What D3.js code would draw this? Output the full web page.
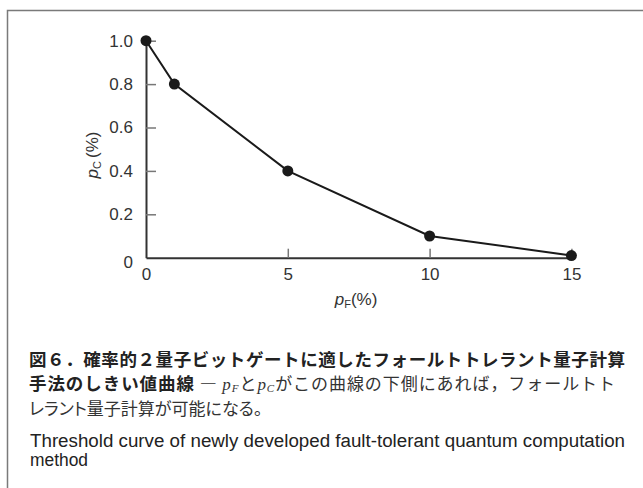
<!DOCTYPE html>
<html>
<head>
<meta charset="utf-8">
<script src="https://cdn.jsdelivr.net/npm/d3@7"></script>
<style>
  body { margin: 0; background: #fff; }
  svg { display: block; }
  .tick text { font-family: "Liberation Sans", Arial, sans-serif; font-size: 17px; fill: #333; }
</style>
</head>
<body>
<div id="chart"></div>
<script>
// data
var pF = [0, 1, 5, 10, 15],
    pC = [1.0, 0.8, 0.4, 0.1, 0.01];
var xTicks = [0, 5, 10, 15],
    yTicks = [0, 0.2, 0.4, 0.6, 0.8, 1.0];

var W = 643, H = 488;

var svg = d3.select("#chart").append("svg")
    .attr("width", W)
    .attr("height", H);

// frame (top + left only)
svg.append("path")
    .attr("d", "M7.5," + H + "V10.5H" + W)
    .attr("fill", "none")
    .attr("stroke", "#7a7a7a")
    .attr("stroke-width", 1.5);

var x = d3.scaleLinear().domain([0, 15]).range([146, 571.4]),
    y = d3.scaleLinear().domain([0, 1]).range([257.7, 40.7]);

var xAxis = d3.axisBottom(x).tickValues(xTicks).tickSizeInner(-9).tickSizeOuter(0).tickPadding(10),
    yAxis = d3.axisLeft(y).tickValues(yTicks).tickSizeInner(-10).tickSizeOuter(0).tickPadding(13)
        .tickFormat(function(d) { return d === 0 ? "0" : d3.format(".1f")(d); });

var gx = svg.append("g")
    .attr("transform", "translate(0," + y(0) + ")")
    .call(xAxis);
var gy = svg.append("g")
    .attr("transform", "translate(" + x(0) + ",0)")
    .call(yAxis);

[gx, gy].forEach(function(g) {
    g.select(".domain").attr("stroke", "#333").attr("stroke-width", 2);
    g.selectAll(".tick line").attr("stroke", "#777").attr("stroke-width", 1.5);
});
gx.selectAll(".tick").filter(function(d) { return d === 0; }).select("line").remove();
gy.selectAll(".tick").filter(function(d) { return d === 0; }).select("line").remove();
gy.selectAll(".tick").filter(function(d) { return d === 0; }).select("text").attr("dy", "0.55em");

// curve
var pts = pF.map(function(d, i) { return [d, pC[i]]; });
svg.append("path")
    .datum(pts)
    .attr("fill", "none")
    .attr("stroke", "#1a1a1a")
    .attr("stroke-width", 2)
    .attr("d", d3.line().x(function(d) { return x(d[0]); }).y(function(d) { return y(d[1]); }));

svg.selectAll("circle.pt")
    .data(pts)
    .enter().append("circle")
    .attr("class", "pt")
    .attr("cx", function(d) { return x(d[0]); })
    .attr("cy", function(d) { return y(d[1]); })
    .attr("r", 5.5)
    .attr("fill", "#1a1a1a");

// axis labels
var lab = "font-family:'Liberation Sans',Arial,sans-serif;font-size:17px;fill:#333";
var xl = svg.append("text")
    .attr("x", 356).attr("y", 305)
    .attr("text-anchor", "middle")
    .attr("style", lab);
xl.append("tspan").attr("font-style", "italic").text("p");
xl.append("tspan").attr("font-size", "11px").attr("dy", 3).text("F");
xl.append("tspan").attr("dy", -3).text("(%)");

var yl = svg.append("text")
    .attr("transform", "translate(98,155) rotate(-90)")
    .attr("text-anchor", "middle")
    .attr("style", lab);
yl.append("tspan").attr("font-style", "italic").text("p");
yl.append("tspan").attr("font-size", "11px").attr("dy", 3).text("C");
yl.append("tspan").attr("dy", -3).attr("dx", 3).text("(%)");

// caption
var jp = "'Noto Sans CJK JP', sans-serif",
    serif = "'Liberation Serif', 'DejaVu Serif', serif";

svg.append("text")
    .attr("x", 29).attr("y", 366)
    .attr("textLength", 596).attr("lengthAdjust", "spacing")
    .attr("style", "font-family:" + jp + ";font-weight:700;font-size:17.5px;fill:#222")
    .text("図６．確率的２量子ビットゲートに適したフォールトトレラント量子計算");

var l2 = svg.append("text")
    .attr("x", 29).attr("y", 390)
    .attr("textLength", 586).attr("lengthAdjust", "spacing")
    .attr("style", "font-family:" + jp + ";font-size:17px;fill:#333");
l2.append("tspan").attr("font-weight", 700).attr("font-size", "17.5px").attr("fill", "#222").text("手法のしきい値曲線");
l2.append("tspan").text(" ― ");
l2.append("tspan").attr("font-family", serif).attr("font-style", "italic").text("p");
l2.append("tspan").attr("font-family", serif).attr("font-style", "italic").attr("font-size", "11px").attr("dy", 2).text("F");
l2.append("tspan").attr("dy", -2).text("と");
l2.append("tspan").attr("font-family", serif).attr("font-style", "italic").text("p");
l2.append("tspan").attr("font-family", serif).attr("font-style", "italic").attr("font-size", "11px").attr("dy", 2).text("C");
l2.append("tspan").attr("dy", -2).text("がこの曲線の下側にあれば，フォールトト");

svg.append("text")
    .attr("x", 29).attr("y", 415)
    .attr("style", "font-family:" + jp + ";font-size:17px;fill:#333;font-feature-settings:'palt'")
    .text("レラント量子計算が可能になる。");

var en = "font-family:'Liberation Sans',Arial,sans-serif;font-size:18px;fill:#222";
svg.append("text")
    .attr("x", 30).attr("y", 447)
    .attr("textLength", 595).attr("lengthAdjust", "spacingAndGlyphs")
    .attr("style", en)
    .text("Threshold curve of newly developed fault-tolerant quantum computation");
svg.append("text")
    .attr("x", 30).attr("y", 466)
    .attr("textLength", 58).attr("lengthAdjust", "spacingAndGlyphs")
    .attr("style", en)
    .text("method");
</script>
</body>
</html>
